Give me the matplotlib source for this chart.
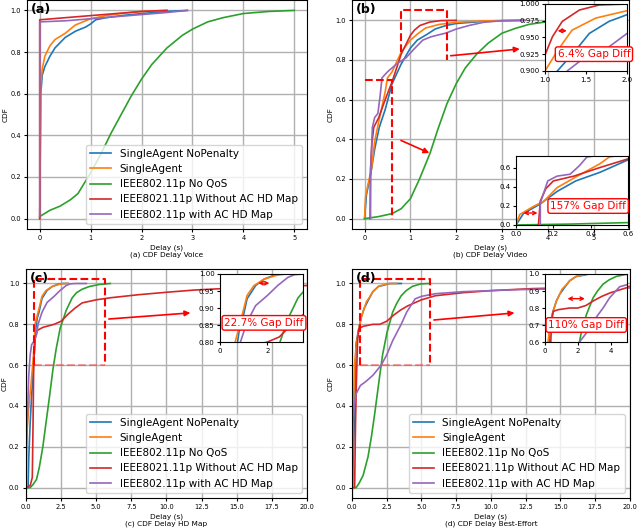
import matplotlib
matplotlib.use('Agg')
import matplotlib.pyplot as plt
from matplotlib.ticker import FormatStrFormatter

labels = ['SingleAgent NoPenalty', 'SingleAgent', 'IEEE802.11p No QoS',
          'IEEE8021.11p Without AC HD Map', 'IEEE802.11p with AC HD Map']
colors = ['tab:blue', 'tab:orange', 'tab:green', 'tab:red', 'tab:purple']

# ---- (a) voice delay CDF
voice_nopen_x = [0, 0.02, 0.05, 0.1, 0.2, 0.3, 0.5, 0.7, 0.9, 1.0, 1.1, 1.3, 1.6, 2.0, 2.5, 2.9]
voice_nopen_y = [0, 0.6, 0.69, 0.73, 0.78, 0.82, 0.87, 0.9, 0.92, 0.935, 0.955, 0.965, 0.975, 0.985, 0.995, 1.0]
voice_single_x = [0, 0.02, 0.05, 0.1, 0.2, 0.3, 0.5, 0.7, 1.0, 1.3, 1.6, 2.0, 2.5]
voice_single_y = [0, 0.65, 0.72, 0.78, 0.83, 0.86, 0.89, 0.93, 0.96, 0.975, 0.985, 0.995, 1.0]
voice_noqos_x = [0, 0.2, 0.4, 0.6, 0.75, 0.9, 1.0, 1.2, 1.4, 1.6, 1.8, 2.0, 2.2, 2.5, 2.8, 3.0, 3.3, 3.6, 4.0, 4.5, 5.0]
voice_noqos_y = [0.01, 0.04, 0.06, 0.09, 0.12, 0.18, 0.22, 0.31, 0.41, 0.5, 0.59, 0.67, 0.74, 0.82, 0.88, 0.91, 0.945, 0.965, 0.985, 0.995, 1.0]
voice_noac_x = [0, 0, 0.5, 1.0, 1.5, 2.0, 2.5]
voice_noac_y = [0, 0.955, 0.965, 0.975, 0.985, 0.995, 1.0]
voice_ac_x = [0, 0, 0.5, 1.0, 1.5, 2.0, 2.5, 2.9]
voice_ac_y = [0.01, 0.945, 0.95, 0.96, 0.97, 0.98, 0.99, 1.0]

# ---- (b) video delay CDF
video_nopen_x = [0, 0.04, 0.13, 0.22, 0.32, 0.45, 0.6, 0.8, 1.0, 1.15, 1.375, 1.54, 1.78, 2.0, 2.5, 3.0, 3.5]
video_nopen_y = [0, 0.12, 0.22, 0.35, 0.46, 0.55, 0.68, 0.78, 0.86, 0.9, 0.931, 0.956, 0.974, 0.984, 0.993, 0.998, 1.0]
video_single_x = [0, 0.02, 0.09, 0.15, 0.22, 0.31, 0.45, 0.5, 0.6, 0.8, 1.0, 1.15, 1.33, 1.62, 2.0, 2.5, 3.0, 3.5]
video_single_y = [0, 0.11, 0.19, 0.25, 0.39, 0.49, 0.64, 0.71, 0.74, 0.84, 0.9, 0.93, 0.961, 0.979, 0.99, 0.996, 0.999, 1.0]
video_noqos_x = [0, 0.3, 0.6, 0.8, 1.0, 1.2, 1.43, 1.6, 1.8, 2.0, 2.2, 2.45, 2.7, 3.0, 3.3, 3.6, 3.9, 4.5, 5.5]
video_noqos_y = [0, 0.01, 0.025, 0.05, 0.1, 0.2, 0.33, 0.45, 0.58, 0.68, 0.76, 0.83, 0.885, 0.935, 0.96, 0.98, 0.99, 0.997, 1.0]
video_noac_x = [0.12, 0.13, 0.16, 0.2, 0.31, 0.45, 0.6, 0.8, 1.0, 1.09, 1.21, 1.42, 1.66, 2.0]
video_noac_y = [0, 0.25, 0.38, 0.46, 0.51, 0.6, 0.69, 0.83, 0.924, 0.951, 0.974, 0.991, 0.9985, 1.0]
video_ac_x = [0.13, 0.13, 0.17, 0.22, 0.29, 0.34, 0.38, 0.5, 0.7, 0.9, 1.1, 1.27, 1.45, 1.78, 2.0, 2.3, 2.6, 3.0, 3.5]
video_ac_y = [0, 0.23, 0.46, 0.51, 0.53, 0.62, 0.71, 0.74, 0.78, 0.81, 0.86, 0.9, 0.917, 0.936, 0.956, 0.975, 0.99, 0.998, 1.0]

# ---- (c) HD map delay CDF
hdmap_nopen_x = [0.15, 0.2, 0.3, 0.4, 0.5, 0.6, 0.7, 0.8, 0.93, 1.14, 1.5, 1.86, 2.3, 2.6, 3.0]
hdmap_nopen_y = [0, 0.15, 0.32, 0.45, 0.55, 0.68, 0.78, 0.83, 0.86, 0.927, 0.966, 0.985, 0.997, 1.0, 1.0]
hdmap_single_x = [0, 0, 0.1, 0.2, 0.35, 0.5, 0.6, 0.64, 0.86, 1.14, 1.43, 1.86, 2.43, 2.8, 3.0]
hdmap_single_y = [0, 0.2, 0.3, 0.4, 0.5, 0.62, 0.72, 0.8, 0.859, 0.937, 0.966, 0.985, 0.997, 1.0, 1.0]
hdmap_noqos_x = [0, 0.3, 0.5, 0.75, 0.95, 1.2, 1.45, 1.7, 1.92, 2.15, 2.43, 2.86, 3.29, 3.6, 4.0, 4.5, 5.2, 6.0]
hdmap_noqos_y = [0, 0, 0.015, 0.04, 0.1, 0.2, 0.33, 0.46, 0.58, 0.68, 0.78, 0.868, 0.93, 0.955, 0.972, 0.985, 0.995, 1.0]
hdmap_noac_x = [0, 0.3, 0.45, 0.5, 0.55, 0.65, 0.8, 1.2, 2.0, 2.5, 3.0, 3.5, 4.0, 5.0, 6.0, 8.0, 10.0, 12.0, 14.0, 17.0, 20.0]
hdmap_noac_y = [0, 0.01, 0.05, 0.3, 0.6, 0.73, 0.77, 0.785, 0.8, 0.815, 0.85, 0.88, 0.905, 0.92, 0.93, 0.945, 0.957, 0.968, 0.975, 0.983, 0.99]
hdmap_ac_x = [0, 0.05, 0.1, 0.2, 0.3, 0.4, 0.6, 0.75, 0.86, 1.14, 1.5, 2.0, 2.43, 2.86, 3.14, 3.5, 4.3]
hdmap_ac_y = [0, 0.2, 0.35, 0.55, 0.65, 0.7, 0.72, 0.75, 0.8, 0.859, 0.907, 0.937, 0.966, 0.99, 0.998, 1.0, 1.0]

# ---- (d) best-effort delay CDF
be_nopen_x = [0.05, 0.07, 0.19, 0.28, 0.49, 0.69, 0.89, 1.15, 1.5, 1.91, 2.2, 2.7, 3.55]
be_nopen_y = [0, 0.11, 0.36, 0.7, 0.78, 0.84, 0.88, 0.915, 0.96, 0.986, 0.99, 1.0, 1.0]
be_single_x = [0, 0.07, 0.18, 0.31, 0.49, 0.69, 0.89, 1.03, 1.3, 1.5, 1.91, 2.52, 3.2]
be_single_y = [0, 0.28, 0.6, 0.7, 0.78, 0.84, 0.88, 0.91, 0.937, 0.96, 0.986, 0.999, 1.0]
be_noqos_x = [0, 0.3, 0.5, 0.8, 1.15, 1.4, 1.63, 2.0, 2.2, 2.52, 2.93, 3.2, 3.54, 3.9, 4.35, 4.96, 5.6]
be_noqos_y = [0, 0, 0.02, 0.06, 0.15, 0.25, 0.36, 0.55, 0.65, 0.76, 0.86, 0.9, 0.94, 0.965, 0.986, 0.998, 1.0]
be_noac_x = [0, 0.19, 0.25, 0.31, 0.4, 0.5, 0.8, 1.5, 2.0, 2.5, 3.0, 3.5, 4.0, 5.0, 6.0, 8.0, 10.0, 13.0, 16.0, 20.0]
be_noac_y = [0, 0, 0.3, 0.5, 0.72, 0.78, 0.79, 0.8, 0.8, 0.815, 0.845, 0.87, 0.89, 0.92, 0.94, 0.955, 0.965, 0.975, 0.98, 0.985]
be_ac_x = [0, 0.05, 0.15, 0.3, 0.6, 1.0, 1.5, 2.1, 2.5, 2.93, 3.54, 3.94, 4.55, 5.0, 6.0, 8.0, 12.0, 16.0, 20.0]
be_ac_y = [0, 0.3, 0.4, 0.46, 0.5, 0.52, 0.55, 0.6, 0.65, 0.72, 0.8, 0.86, 0.925, 0.937, 0.95, 0.96, 0.97, 0.975, 0.978]

voice = [(voice_nopen_x, voice_nopen_y), (voice_single_x, voice_single_y), (voice_noqos_x, voice_noqos_y),
         (voice_noac_x, voice_noac_y), (voice_ac_x, voice_ac_y)]
video = [(video_nopen_x, video_nopen_y), (video_single_x, video_single_y), (video_noqos_x, video_noqos_y),
         (video_noac_x, video_noac_y), (video_ac_x, video_ac_y)]
hdmap = [(hdmap_nopen_x, hdmap_nopen_y), (hdmap_single_x, hdmap_single_y), (hdmap_noqos_x, hdmap_noqos_y),
         (hdmap_noac_x, hdmap_noac_y), (hdmap_ac_x, hdmap_ac_y)]
besteff = [(be_nopen_x, be_nopen_y), (be_single_x, be_single_y), (be_noqos_x, be_noqos_y),
           (be_noac_x, be_noac_y), (be_ac_x, be_ac_y)]


def draw(ax, series):
    for (x, y), lab, c in zip(series, labels, colors):
        ax.plot(x, y, color=c, lw=1.2, label=lab)


def style_main(ax, tag, caption):
    ax.grid(True, color='#b0b0b0', lw=1.0)
    ax.tick_params(labelsize=4.8, length=2.5, width=0.8, pad=2)
    ax.set_yticks([0, 0.2, 0.4, 0.6, 0.8, 1.0])
    ax.yaxis.set_major_formatter(FormatStrFormatter('%.1f'))
    ax.set_xlabel('Delay (s)\n' + caption, fontsize=5.3, labelpad=2)
    ax.set_ylabel('CDF', fontsize=5.3, labelpad=1)
    ax.text(0.015, 0.985, tag, transform=ax.transAxes, fontsize=9,
            weight='bold', va='top', zorder=6)


def style_inset(ax, xlim, ylim, xt, yt, xfmt, yfmt):
    ax.set_xlim(*xlim)
    ax.set_ylim(*ylim)
    ax.set_xticks(xt)
    ax.set_yticks(yt)
    ax.xaxis.set_major_formatter(FormatStrFormatter(xfmt))
    ax.yaxis.set_major_formatter(FormatStrFormatter(yfmt))
    ax.tick_params(labelsize=5, length=2.5, width=0.8, pad=1.5)


def dashed(ax, xs, ys, alpha=1.0):
    ax.plot(xs, ys, color='red', ls='--', lw=1.5, alpha=alpha, zorder=4)


def arrow(ax, start, end):
    ax.annotate('', xy=end, xytext=start,
                arrowprops=dict(arrowstyle='-|>', color='red', lw=1.2, mutation_scale=8))


def gap(ax, start, end):
    ax.annotate('', xy=end, xytext=start,
                arrowprops=dict(arrowstyle='<->', color='red', lw=1.0, mutation_scale=6))


def gap_label(x, y, s):
    fig.text(x, y, s, ha='center', va='center', color='red', fontsize=7.5, zorder=10,
             bbox=dict(boxstyle='round,pad=0.22', fc='white', ec='red', lw=1.0))


fig = plt.figure(figsize=(6.4, 5.31), dpi=100)

# (a)
ax_a = fig.add_axes([0.0422, 0.5687, 0.4375, 0.4313])
draw(ax_a, voice)
ax_a.set_xlim(-0.25, 5.25)
ax_a.set_ylim(-0.05, 1.05)
style_main(ax_a, '(a)', '(a) CDF Delay Voice')
ax_a.legend(loc='lower right', fontsize=7.5)

# (b)
ax_b = fig.add_axes([0.55, 0.5687, 0.4328, 0.4313])
draw(ax_b, video)
ax_b.set_xlim(-0.275, 5.775)
ax_b.set_ylim(-0.0525, 1.1025)
style_main(ax_b, '(b)', '(b) CDF Delay Video')
dashed(ax_b, [0.8, 0.8, 1.8, 1.8], [0.84, 1.05, 1.05, 0.8])
dashed(ax_b, [0.0, 0.6, 0.6], [0.7, 0.7, 0.0])
arrow(ax_b, (1.82, 0.82), (3.45, 0.857))
arrow(ax_b, (0.74, 0.40), (1.47, 0.325))

ax_b1 = fig.add_axes([0.8516, 0.8663, 0.1281, 0.1262])
draw(ax_b1, video)
style_inset(ax_b1, (1.0, 2.0), (0.9, 1.0), [1.0, 1.5, 2.0],
            [0.9, 0.925, 0.95, 0.975, 1.0], '%.1f', '%.3f')
gap(ax_b1, (1.12, 0.96), (1.30, 0.96))

ax_b2 = fig.add_axes([0.8063, 0.5763, 0.175, 0.1299])
draw(ax_b2, video)
style_inset(ax_b2, (0.0, 0.6), (0.0, 0.72), [0.0, 0.2, 0.4, 0.6],
            [0.0, 0.2, 0.4, 0.6], '%.1f', '%.1f')
gap(ax_b2, (0.025, 0.125), (0.13, 0.125))

gap_label(0.928, 0.898, '6.4% Gap Diff')
gap_label(0.919, 0.612, '157% Gap Diff')

# (c)
ax_c = fig.add_axes([0.0406, 0.0621, 0.439, 0.4313])
draw(ax_c, hdmap)
ax_c.set_xlim(0, 20)
ax_c.set_ylim(-0.051, 1.071)
style_main(ax_c, '(c)', '(c) CDF Delay HD Map')
ax_c.legend(loc='lower right', fontsize=7.5)
dashed(ax_c, [0.6, 0.6, 5.65, 5.65], [0.6, 1.02, 1.02, 0.6])
dashed(ax_c, [0.6, 5.65], [0.6, 0.6], alpha=0.35)
arrow(ax_c, (5.7, 0.825), (11.9, 0.857))

ax_c1 = fig.add_axes([0.3438, 0.3559, 0.1297, 0.1281])
draw(ax_c1, hdmap)
style_inset(ax_c1, (0, 3.5), (0.8, 1.0), [0, 2],
            [0.8, 0.85, 0.9, 0.95, 1.0], '%d', '%.2f')
gap(ax_c1, (1.5, 0.973), (2.2, 0.973))
gap_label(0.4125, 0.392, '22.7% Gap Diff')

# (d)
ax_d = fig.add_axes([0.55, 0.0621, 0.434, 0.4313])
draw(ax_d, besteff)
ax_d.set_xlim(0, 20)
ax_d.set_ylim(-0.051, 1.071)
style_main(ax_d, '(d)', '(d) CDF Delay Best-Effort')
ax_d.legend(loc='lower right', fontsize=7.5)
dashed(ax_d, [0.55, 0.55, 5.65, 5.65], [0.6, 1.02, 1.02, 0.6])
dashed(ax_d, [0.55, 5.65], [0.6, 0.6], alpha=0.35)
arrow(ax_d, (5.7, 0.82), (11.9, 0.857))

ax_d1 = fig.add_axes([0.8516, 0.3559, 0.1281, 0.1281])
draw(ax_d1, besteff)
style_inset(ax_d1, (0, 5), (0.6, 1.0), [0, 2, 4],
            [0.6, 0.7, 0.8, 0.9, 1.0], '%d', '%.1f')
gap(ax_d1, (1.2, 0.855), (2.6, 0.855))
gap_label(0.916, 0.388, '110% Gap Diff')

fig.savefig('out.png', dpi=100)
